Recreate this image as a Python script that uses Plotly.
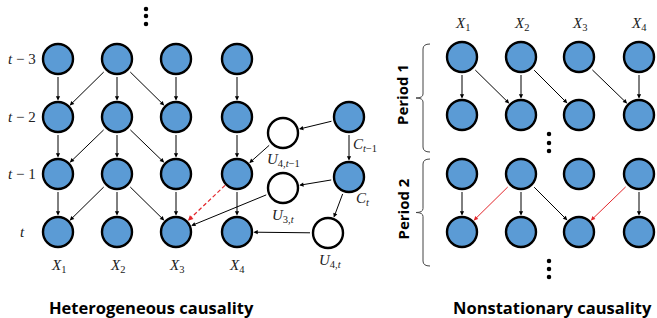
import math
import plotly.graph_objects as go

# ---------------- data ----------------
# Left panel: heterogeneous causality (4 variables x 4 time steps)
left_col_x = [58, 117, 176, 237]
left_row_y = [59, 117, 174, 232]
row_labels = ["<i>t</i> − 3", "<i>t</i> − 2", "<i>t</i> − 1", "<i>t</i>"]
var_labels = ["<i>X</i><sub>1</sub>", "<i>X</i><sub>2</sub>", "<i>X</i><sub>3</sub>", "<i>X</i><sub>4</sub>"]
lag_edges = [(0, 0), (1, 0), (1, 1), (1, 2), (2, 2), (3, 3)]

# confounders / latent nodes: name, x, y, filled, label, label x, label y
extra_nodes = {
    "C1": (349, 117, True, "<i>C</i><sub><i>t</i>−1</sub>", 365, 145),
    "Ct": (349, 177, True, "<i>C<sub>t</sub></i>", 363, 199),
    "U4p": (283, 133, False, "<i>U</i><sub>4,<i>t</i>−1</sub>", 283, 160),
    "U3": (283, 188, False, "<i>U</i><sub>3,<i>t</i></sub>", 283, 216),
    "U4": (328, 233, False, "<i>U</i><sub>4,<i>t</i></sub>", 330, 261),
}
extra_edges = [("C1", "U4p"), ("U4p", ("L", 3, 2)), ("C1", "Ct"), ("Ct", "U3"),
               ("U3", ("L", 2, 3)), ("Ct", "U4"), ("U4", ("L", 3, 3))]
dashed_edge = (("L", 3, 2), ("L", 2, 3))

# Right panel: nonstationary causality
right_col_x = [462, 521, 579, 639]
right_row_y = [57, 115, 174, 232]
period1_edges = [(0, 0, "k"), (0, 1, "k"), (1, 1, "k"), (1, 2, "k"), (2, 3, "k"), (3, 3, "k")]
period2_edges = [(0, 0, "k"), (1, 0, "r"), (1, 1, "k"), (1, 2, "k"), (3, 2, "r"), (3, 3, "k")]
period_labels = ["Period 1", "Period 2"]

# ---------------- styles ----------------
FILL = "#5B9BD5"
RED = "#E3262B"
R = 16.5
MATH_FONT = dict(family="Liberation Serif", size=15, color="#222")
TITLE_FONT = dict(family="Open Sans", size=16.5, color="black")

fig = go.Figure()
annotations = []
shapes = []


def pos(node):
    if isinstance(node, tuple):
        side, c, r = node
        if side == "L":
            return left_col_x[c], left_row_y[r]
        return right_col_x[c], right_row_y[r]
    x, y = extra_nodes[node][0], extra_nodes[node][1]
    return x, y


def arrow(src, dst, color="black", width=1):
    x0, y0 = pos(src)
    x1, y1 = pos(dst)
    annotations.append(dict(x=x1, y=y1, ax=x0, ay=y0, xref="x", yref="y", axref="x", ayref="y",
                            showarrow=True, arrowhead=2, arrowsize=0.85, arrowwidth=width,
                            arrowcolor=color, standoff=R, startstandoff=R, text=""))


# left lagged edges
for r in range(3):
    for s, d in lag_edges:
        arrow(("L", s, r), ("L", d, r + 1))
for s, d in extra_edges:
    arrow(s, d)

# dashed red edge
(xa, ya), (xb, yb) = pos(dashed_edge[0]), pos(dashed_edge[1])
L = math.hypot(xb - xa, yb - ya)
ux, uy = (xb - xa) / L, (yb - ya) / L
fig.add_trace(go.Scatter(x=[xa + ux * R, xb - ux * (R + 5)], y=[ya + uy * R, yb - uy * (R + 5)],
                         mode="lines", line=dict(color=RED, width=1.2, dash="4px,2.5px"),
                         hoverinfo="skip", showlegend=False))
annotations.append(dict(x=xb, y=yb, ax=xb - ux * (R + 7), ay=yb - uy * (R + 7), xref="x", yref="y",
                        axref="x", ayref="y", showarrow=True, arrowhead=2, arrowsize=0.85,
                        arrowwidth=1.2, arrowcolor=RED, standoff=R, text=""))

# right edges
for p, edges in enumerate([period1_edges, period2_edges]):
    r = 2 * p
    for s, d, c in edges:
        arrow(("R", s, r), ("R", d, r + 1), color=RED if c == "r" else "black")

# nodes
nx, ny, nfill = [], [], []
for c in range(4):
    for r in range(4):
        nx.append(left_col_x[c]); ny.append(left_row_y[r]); nfill.append(FILL)
        nx.append(right_col_x[c]); ny.append(right_row_y[r]); nfill.append(FILL)
for k, v in extra_nodes.items():
    nx.append(v[0]); ny.append(v[1]); nfill.append(FILL if v[2] else "white")
fig.add_trace(go.Scatter(x=nx, y=ny, mode="markers",
                         marker=dict(size=30, color=nfill, line=dict(color="black", width=2.4)),
                         hoverinfo="skip", showlegend=False))

# vertical dots
dots_x = [146] * 3 + [549] * 3 + [549] * 3
dots_y = [9, 16, 24, 134, 143, 151, 261, 269, 277]
fig.add_trace(go.Scatter(x=dots_x, y=dots_y, mode="markers",
                         marker=dict(size=4.5, color="black"), hoverinfo="skip", showlegend=False))

# labels
for r, lab in enumerate(row_labels):
    annotations.append(dict(x=22, y=left_row_y[r], text=lab, showarrow=False, font=MATH_FONT,
                            xref="x", yref="y"))
for c, lab in enumerate(var_labels):
    annotations.append(dict(x=left_col_x[c], y=266, text=lab, showarrow=False, font=MATH_FONT,
                            xref="x", yref="y"))
    annotations.append(dict(x=right_col_x[c], y=24, text=lab, showarrow=False, font=MATH_FONT,
                            xref="x", yref="y"))
for k, v in extra_nodes.items():
    annotations.append(dict(x=v[4], y=v[5], text=v[3], showarrow=False, font=MATH_FONT,
                            xref="x", yref="y"))

annotations.append(dict(x=151, y=307, text="<b>Heterogeneous causality</b>", showarrow=False,
                        font=TITLE_FONT, xref="x", yref="y"))
annotations.append(dict(x=552, y=307, text="<b>Nonstationary causality</b>", showarrow=False,
                        font=TITLE_FONT, xref="x", yref="y"))

# period brackets
brackets = [(44, 152), (159, 266)]
for (top, bot), lab in zip(brackets, period_labels):
    mid = (top + bot) / 2
    path = (f"M 430,{top} Q 423,{top} 423,{top+5} L 423,{mid-4} Q 423,{mid} 416,{mid} "
            f"Q 423,{mid} 423,{mid+4} L 423,{bot-5} Q 423,{bot} 430,{bot}")
    shapes.append(dict(type="path", path=path, xref="x", yref="y",
                       line=dict(color="#444", width=1)))
    annotations.append(dict(x=402, y=mid - 3, text=f"<b>{lab}</b>", textangle=-90, showarrow=False,
                            font=dict(family="Open Sans", size=15, color="black"),
                            xref="x", yref="y"))

fig.update_layout(
    width=657, height=318, margin=dict(l=0, r=0, t=0, b=0),
    paper_bgcolor="white", plot_bgcolor="white",
    xaxis=dict(range=[0, 657], visible=False, fixedrange=True),
    yaxis=dict(range=[318, 0], visible=False, fixedrange=True),
    annotations=annotations, shapes=shapes, showlegend=False,
)
fig.write_html("out.html", config={"displayModeBar": False},
               post_script="document.body.style.margin='0';document.body.style.overflow='hidden';")
